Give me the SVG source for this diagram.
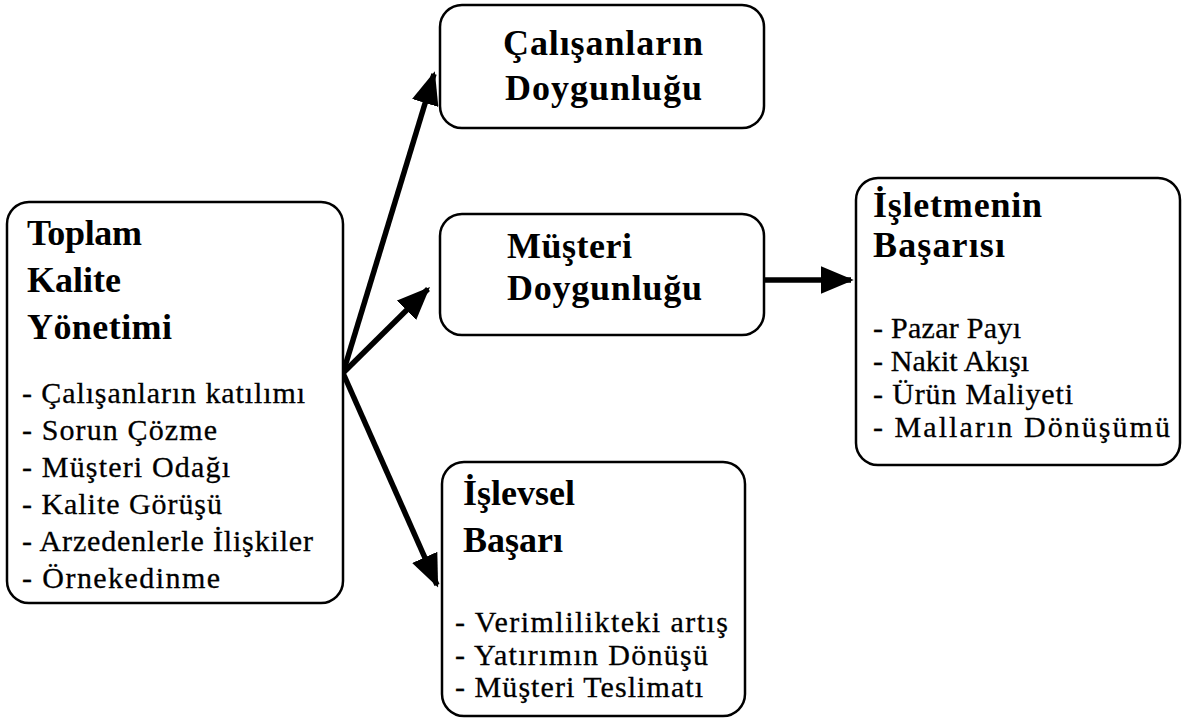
<svg xmlns="http://www.w3.org/2000/svg" width="1192" height="719" viewBox="0 0 1192 719">
  <style>
    .box { fill: #fff; stroke: #000; stroke-width: 2.5; }
    .head { font-family: "Liberation Serif", "Times New Roman", serif; font-weight: bold; font-size: 36px; fill: #000; }
    .item { font-family: "Liberation Serif", "Times New Roman", serif; font-size: 30px; fill: #000; stroke: #000; stroke-width: 0.3; }
    .conn { stroke: #000; stroke-width: 5.5; fill: none; }
  </style>
  <defs>
    <marker id="arrow" viewBox="0 0 12 10" refX="11" refY="5" markerWidth="6" markerHeight="5" markerUnits="strokeWidth" orient="auto">
      <path d="M0,0 L12,5 L0,10 Z" fill="#000"/>
    </marker>
  </defs>
  <rect width="1192" height="719" fill="#fff"/>

  <g id="connectors">
    <line class="conn" x1="343" y1="373" x2="434" y2="74" marker-end="url(#arrow)"/>
    <line class="conn" x1="343" y1="373" x2="428" y2="289" marker-end="url(#arrow)"/>
    <line class="conn" x1="343" y1="373" x2="437" y2="585" marker-end="url(#arrow)"/>
    <line class="conn" x1="764" y1="280" x2="851" y2="280" marker-end="url(#arrow)"/>
  </g>

  <g id="node-tkm">
    <rect class="box" x="7" y="202" width="336" height="401" rx="22"/>
    <text class="head" x="27" y="245" textLength="115">Toplam</text>
    <text class="head" x="27" y="292" textLength="94">Kalite</text>
    <text class="head" x="27" y="339" textLength="145">Yönetimi</text>
    <text class="item" x="22" y="403" textLength="283">- Çalışanların katılımı</text>
    <text class="item" x="22" y="440" textLength="195">- Sorun Çözme</text>
    <text class="item" x="22" y="477" textLength="208">- Müşteri Odağı</text>
    <text class="item" x="22" y="514" textLength="200">- Kalite Görüşü</text>
    <text class="item" x="22" y="551" textLength="291">- Arzedenlerle İlişkiler</text>
    <text class="item" x="22" y="588" textLength="198">- Örnekedinme</text>
  </g>

  <g id="node-calisan">
    <rect class="box" x="440" y="5" width="324" height="123" rx="22"/>
    <text class="head" x="503" y="55" textLength="200">Çalışanların</text>
    <text class="head" x="505" y="100" textLength="197">Doygunluğu</text>
  </g>

  <g id="node-musteri">
    <rect class="box" x="440" y="214" width="324" height="121" rx="22"/>
    <text class="head" x="507" y="258" textLength="125">Müşteri</text>
    <text class="head" x="507" y="300" textLength="195">Doygunluğu</text>
  </g>

  <g id="node-islevsel">
    <rect class="box" x="442" y="462" width="303" height="254" rx="22"/>
    <text class="head" x="463" y="505" textLength="112">İşlevsel</text>
    <text class="head" x="463" y="552" textLength="100">Başarı</text>
    <text class="item" x="455" y="632" textLength="273">- Verimlilikteki artış</text>
    <text class="item" x="455" y="665" textLength="253">- Yatırımın Dönüşü</text>
    <text class="item" x="455" y="697" textLength="248">- Müşteri Teslimatı</text>
  </g>

  <g id="node-isletme">
    <rect class="box" x="856" y="178" width="324" height="287" rx="22"/>
    <text class="head" x="873" y="217" textLength="169">İşletmenin</text>
    <text class="head" x="873" y="257" textLength="132">Başarısı</text>
    <text class="item" x="873" y="338" textLength="148">- Pazar Payı</text>
    <text class="item" x="873" y="371" textLength="156">- Nakit Akışı</text>
    <text class="item" x="873" y="404" textLength="200">- Ürün Maliyeti</text>
    <text class="item" x="873" y="437" textLength="297">- Malların Dönüşümü</text>
  </g>
</svg>
